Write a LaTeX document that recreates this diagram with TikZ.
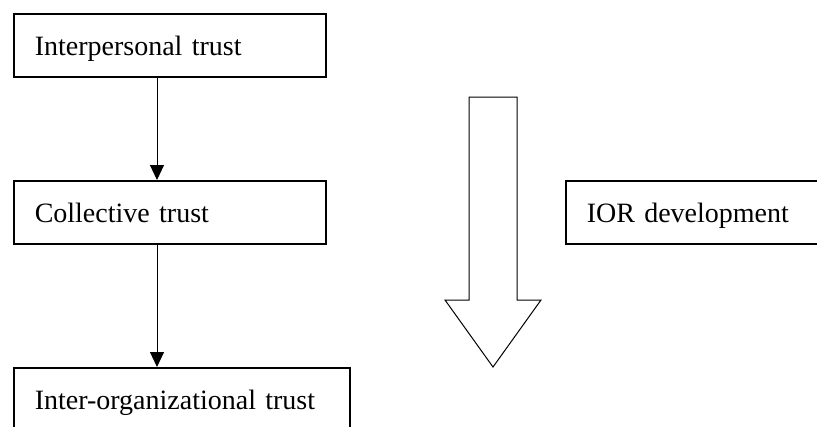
\documentclass[tikz,border=0pt]{standalone}
\usepackage{fontspec}
\setmainfont{Liberation Serif}
\usetikzlibrary{arrows.meta}
\begin{document}
\begin{tikzpicture}[x=1pt,y=1pt,
  trustbox/.style={draw, line width=1.5pt, rectangle, anchor=north west,
    minimum height=63pt, inner xsep=21pt, inner ysep=0pt, align=left,
    text height=22pt, text depth=1pt, font=\fontsize{28}{32}\selectfont},
  flow/.style={line width=1pt, -{Triangle[width=14pt,length=15pt]}},
  bigarrow/.style={draw, line width=1pt, fill=white, line join=miter}]
\useasboundingbox (0,0) rectangle (817,-426);
\clip (0,0) rectangle (817,-426);
\fill[white] (0,0) rectangle (817,-426);

% trust levels
\node[trustbox, text width=270pt] (inter) at (13,-13) {Interpersonal trust};
\node[trustbox, text width=270pt] (coll) at (13,-180) {Collective trust};
\node[trustbox, text width=294pt] (org) at (13,-367) {Inter-organizational trust};

% relationship development
\node[trustbox, text width=218pt] (ior) at (565,-180) {IOR development};

% connectors between levels
\coordinate (lane) at (157,0);
\draw[flow] (lane |- inter.south) -- (lane |- coll.north);
\draw[flow] (lane |- coll.south) -- (lane |- org.north);

% block arrow for the development direction
\draw[bigarrow] (469,-97) -- (517,-97) -- (517,-300) -- (541,-300)
  -- (493,-367) -- (445,-300) -- (469,-300) -- cycle;
\end{tikzpicture}
\end{document}
